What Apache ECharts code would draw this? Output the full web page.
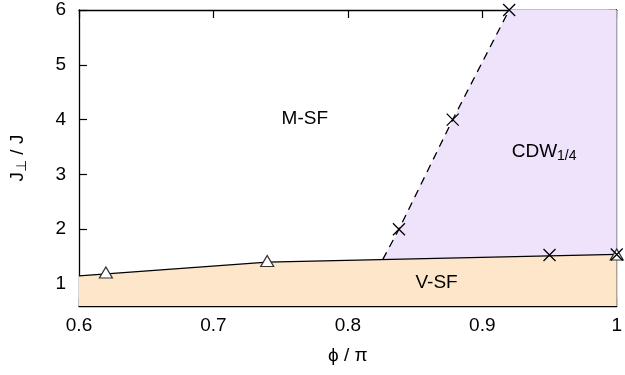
<!DOCTYPE html>
<html>
<head>
<meta charset="utf-8">
<script src="https://cdn.jsdelivr.net/npm/echarts@6/dist/echarts.min.js"></script>
<style>
  html, body { margin: 0; padding: 0; background: #fff; }
  #chart { width: 625px; height: 375px; }
</style>
</head>
<body>
<div id="chart"></div>
<script>
// Phase boundary data: phi/pi on x, J_perp/J on y
const xTicks = [0.6, 0.7, 0.8, 0.9, 1.0];
const yTicks = [1, 2, 3, 4, 5, 6];

// Lower boundary (V-SF below), solid line
const lowerBoundary = [[0.6, 1.15], [0.74, 1.40], [1.0, 1.54]];
// M-SF / CDW boundary, dashed line
const cdwBoundary = [[0.826, 1.45], [0.838, 2.0], [0.878, 4.0], [0.92, 6.0]];
// Measured transition points
const trianglePoints = [[0.62, 1.21], [0.74, 1.42], [1.0, 1.54]];
const crossPoints = [[0.838, 2.0], [0.878, 4.0], [0.92, 6.0], [0.95, 1.53], [1.0, 1.54]];
// Phase labels
const phaseLabels = [
  { name: 'M-SF', pos: [0.768, 4.0] },
  { name: 'CDW', pos: [0.946, 3.4] },
  { name: 'V-SF', pos: [0.866, 1.0] }
];

const X_MIN = 0.6, X_MAX = 1.0, Y_MIN = 0.6, Y_MAX = 6.0;
const FONT = '"Liberation Sans", Arial, sans-serif';
const FS = 19;
const SUB_FS = 14;
const PEACH = '#fee6cb';
const LAVENDER = '#efe3fc';

// Region enclosed by the dashed line, top edge, right edge and lower boundary
const cdwRegion = (function () {
  const pts = cdwBoundary.slice();
  pts.push([X_MAX, Y_MAX]);
  const lastLower = lowerBoundary[lowerBoundary.length - 1];
  pts.push([X_MAX, lastLower[1]]);
  const start = cdwBoundary[0];
  // walk lower boundary back to the starting x
  for (let i = lowerBoundary.length - 1; i >= 0; i--) {
    if (lowerBoundary[i][0] > start[0] && lowerBoundary[i][0] < X_MAX) pts.push(lowerBoundary[i]);
  }
  return pts;
})();

const crossSymbol = 'path://M0,0L10,10M10,0L0,10';

const axisLineStyle = { lineStyle: { color: '#000', width: 1.3 } };
const tickStyle = { lineStyle: { color: '#000', width: 1.2 } };

const subRich = {
  n: { fontFamily: FONT, fontSize: FS, color: '#000', verticalAlign: 'top', lineHeight: 21, padding: [0, 0, 6, 0] },
  s: { fontFamily: FONT, fontSize: SUB_FS, color: '#000', verticalAlign: 'bottom', lineHeight: 15 }
};

const chart = echarts.init(document.getElementById('chart'), null, { renderer: 'canvas' });

const option = {
  backgroundColor: '#fff',
  animation: false,
  grid: { left: 76, right: 4, top: 10, bottom: 69 },
  xAxis: [
    {
      type: 'value', min: X_MIN, max: X_MAX, interval: 0.1,
      position: 'bottom',
      name: 'ϕ / π', nameLocation: 'middle', nameGap: 40,
      nameTextStyle: { fontFamily: FONT, fontSize: FS, color: '#000' },
      axisLine: axisLineStyle,
      axisTick: Object.assign({ inside: true, length: 8, customValues: xTicks }, tickStyle),
      axisLabel: {
        customValues: xTicks, margin: 10,
        fontFamily: FONT, fontSize: FS, color: '#000',
        formatter: v => (Math.abs(v - 1) < 1e-9 ? '1' : v.toFixed(1))
      },
      splitLine: { show: false }
    },
    {
      type: 'value', min: X_MIN, max: X_MAX, interval: 0.1,
      position: 'top',
      axisLine: axisLineStyle,
      axisTick: Object.assign({ inside: true, length: 8, customValues: xTicks }, tickStyle),
      axisLabel: { show: false },
      splitLine: { show: false }
    }
  ],
  yAxis: [
    {
      type: 'value', min: Y_MIN, max: Y_MAX,
      position: 'left',
      name: '{n|J}{s|⊥}{n| / J}', nameLocation: 'middle', nameGap: 50, nameRotate: 90,
      nameTextStyle: { color: '#000', rich: subRich },
      axisLine: axisLineStyle,
      axisTick: Object.assign({ inside: true, length: 8, customValues: yTicks }, tickStyle),
      axisLabel: { customValues: yTicks, margin: 13, fontFamily: FONT, fontSize: FS, color: '#000' },
      splitLine: { show: false }
    },
    {
      type: 'value', min: Y_MIN, max: Y_MAX,
      position: 'right',
      axisLine: axisLineStyle,
      axisTick: Object.assign({ inside: true, length: 8, customValues: yTicks }, tickStyle),
      axisLabel: { show: false },
      splitLine: { show: false }
    }
  ],
  series: [
    {
      // lavender CDW region
      type: 'custom',
      z: 1,
      silent: true,
      data: [0],
      renderItem: function (params, api) {
        const points = cdwRegion.map(p => api.coord(p));
        return {
          type: 'polygon',
          shape: { points: points },
          style: { fill: LAVENDER, stroke: 'none' }
        };
      }
    },
    {
      // solid lower boundary with peach V-SF area beneath
      type: 'line',
      z: 2,
      data: lowerBoundary,
      symbol: 'none',
      lineStyle: { color: '#000', width: 1.3 },
      areaStyle: { color: PEACH, opacity: 1, origin: 'start' }
    },
    {
      type: 'line',
      z: 3,
      data: cdwBoundary,
      symbol: 'none',
      lineStyle: { color: '#000', width: 1.3, type: [8, 6] }
    },
    {
      type: 'scatter',
      z: 5,
      data: trianglePoints,
      symbol: 'triangle',
      symbolSize: [13, 11],
      itemStyle: { color: '#fff', borderColor: '#333', borderWidth: 1.2, opacity: 1 }
    },
    {
      type: 'scatter',
      z: 6,
      data: crossPoints,
      symbol: crossSymbol,
      symbolSize: 12,
      itemStyle: { color: 'none', borderColor: '#000', borderWidth: 1.3, opacity: 1 }
    },
    {
      // phase labels placed in data coordinates
      type: 'scatter',
      z: 7,
      symbolSize: 0,
      silent: true,
      itemStyle: { opacity: 1 },
      data: phaseLabels.map(d => ({ name: d.name, value: d.pos })),
      label: {
        show: true,
        position: 'inside',
        color: '#000',
        formatter: function (p) {
          return p.name === 'CDW' ? '{n|CDW}{s|1/4}' : '{n|' + p.name + '}';
        },
        rich: subRich
      }
    }
  ]
};

chart.setOption(option);
</script>
</body>
</html>
